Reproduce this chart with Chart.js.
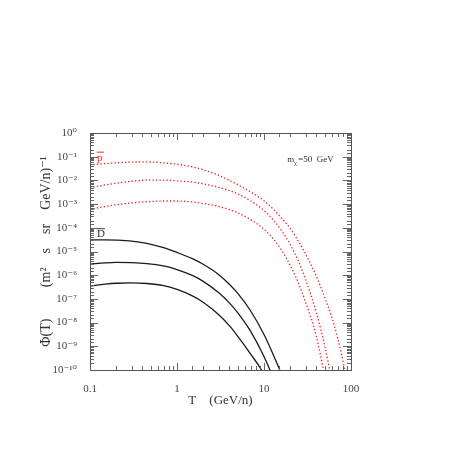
<!DOCTYPE html>
<html>
<head>
<meta charset="utf-8">
<script src="https://cdn.jsdelivr.net/npm/chart.js@4.4.1/dist/chart.umd.min.js"></script>
<style>
  html, body { margin: 0; padding: 0; background: #fff; }
  #wrap { width: 457px; height: 457px; }
</style>
</head>
<body>
<div id="wrap"><canvas id="fluxChart" width="457" height="457"></canvas></div>
<script>
var energies = [0.1, 0.15, 0.2, 0.3, 0.45, 0.7, 1, 1.5, 2, 3, 4, 5, 7, 10, 13, 16, 20, 25, 30, 40, 50, 60, 70, 85, 100]

// log10 of the flux
var pbarHighLog = [-1.35, -1.29, -1.26, -1.23, -1.22, -1.26, -1.32, -1.43, -1.55, -1.78, -2.00, -2.18, -2.48, -2.86, -3.24, -3.60, -4.02, -4.58, -5.10, -6.05, -6.95, -7.75, -8.62, -10.0, -11.3]
var pbarMidLog = [-2.31, -2.19, -2.12, -2.04, -1.99, -1.99, -2.02, -2.07, -2.14, -2.29, -2.43, -2.57, -2.86, -3.27, -3.70, -4.13, -4.70, -5.42, -6.16, -7.58, -9.00, -10.4, -11.6, null, null]
var pbarLowLog = [-3.22, -3.10, -3.03, -2.95, -2.90, -2.87, -2.87, -2.91, -2.97, -3.10, -3.23, -3.37, -3.65, -4.06, -4.50, -4.96, -5.58, -6.35, -7.13, -8.58, -10.3, -11.8, null, null, null]
var dbarHighLog = [-4.51, -4.51, -4.52, -4.56, -4.66, -4.84, -5.04, -5.30, -5.54, -5.97, -6.38, -6.77, -7.50, -8.50, -9.42, -10.22, -11.3, null, null, null, null, null, null, null, null]
var dbarMidLog = [-5.53, -5.48, -5.46, -5.47, -5.51, -5.61, -5.76, -6.01, -6.26, -6.73, -7.17, -7.59, -8.36, -9.43, -10.41, -11.3, null, null, null, null, null, null, null, null, null]
var dbarLowLog = [-6.46, -6.38, -6.34, -6.32, -6.35, -6.44, -6.60, -6.87, -7.14, -7.66, -8.13, -8.58, -9.32, -10.2, -11.3, null, null, null, null, null, null, null, null, null, null]

var xTickLabels = ['0.1', '1', '10', '100']
var yMinExp = -10
var yMaxExp = 0

var serif = "'Liberation Serif', 'DejaVu Serif', serif"
var supMap = { '-': '\u207B', '0': '\u2070', '1': '\u00B9', '2': '\u00B2', '3': '\u00B3', '4': '\u2074', '5': '\u2075', '6': '\u2076', '7': '\u2077', '8': '\u2078', '9': '\u2079' }

function toSup(n) {
    return String(n).split('').map(function (c) { return supMap[c] }).join('')
}
function isDecade(v) {
    var l = Math.log10(v)
    return Math.abs(l - Math.round(l)) < 1e-6
}
function toPoints(logs) {
    return energies.map(function (t, i) {
        return { x: t, y: logs[i] === null ? null : Math.pow(10, logs[i]) }
    })
}
function redSet(logs) {
    return {
        data: toPoints(logs),
        borderColor: 'rgb(255, 20, 20)',
        borderWidth: 1.3,
        borderDash: [1.3, 2.2],
        pointRadius: 0,
        cubicInterpolationMode: 'monotone',
        spanGaps: false
    }
}
function blackSet(logs) {
    return {
        data: toPoints(logs),
        borderColor: '#1a1a1a',
        borderWidth: 1.3,
        pointRadius: 0,
        cubicInterpolationMode: 'monotone',
        spanGaps: false
    }
}

var frameTicks = {
    id: 'frameTicks',
    afterDatasetsDraw: function (chart) {
        var ctx = chart.ctx
        var a = chart.chartArea
        var xs = chart.scales.x
        var ys = chart.scales.y
        ctx.save()
        ctx.strokeStyle = '#666'
        ctx.lineWidth = 1
        xs.ticks.forEach(function (t) {
            var px = Math.round(xs.getPixelForValue(t.value)) + 0.5
            var len = isDecade(t.value) ? 7 : 4
            ctx.beginPath()
            ctx.moveTo(px, a.bottom); ctx.lineTo(px, a.bottom - len)
            ctx.moveTo(px, a.top); ctx.lineTo(px, a.top + len)
            ctx.stroke()
        })
        ys.ticks.forEach(function (t) {
            var py = Math.round(ys.getPixelForValue(t.value)) + 0.5
            var len = isDecade(t.value) ? 8 : 4
            ctx.beginPath()
            ctx.moveTo(a.left, py); ctx.lineTo(a.left + len, py)
            ctx.moveTo(a.right, py); ctx.lineTo(a.right - len, py)
            ctx.stroke()
        })
        ctx.strokeStyle = '#555'
        ctx.strokeRect(Math.round(a.left) + 0.5, Math.round(a.top) + 0.5, Math.round(a.right - a.left), Math.round(a.bottom - a.top))

        ctx.textBaseline = 'middle'
        ctx.textAlign = 'left'
        var lx = xs.getPixelForValue(0.12)

        ctx.fillStyle = 'rgb(255, 40, 40)'
        ctx.font = '11px ' + serif
        var py1 = ys.getPixelForValue(Math.pow(10, -1.04))
        ctx.fillText('p', lx, py1)
        ctx.fillRect(lx, py1 - 6, 7, 1)

        ctx.fillStyle = '#333'
        var py2 = ys.getPixelForValue(Math.pow(10, -4.27))
        ctx.fillText('D', lx, py2)
        ctx.fillRect(lx, py2 - 6, 8, 1)

        ctx.font = '9px ' + serif
        var mx = xs.getPixelForValue(18.5)
        var my = ys.getPixelForValue(Math.pow(10, -1.14))
        ctx.fillText('m', mx, my)
        var mw = ctx.measureText('m').width
        ctx.font = '6px ' + serif
        ctx.fillText('\u03C7', mx + mw, my + 3)
        ctx.font = '9px ' + serif
        ctx.fillText('=50  GeV', mx + mw + 4, my)
        ctx.restore()
    }
}

var chartCtx = new Chart(document.getElementById('fluxChart'), {
    type: 'line',
    data: {
        datasets: [
            redSet(pbarHighLog), redSet(pbarMidLog), redSet(pbarLowLog),
            blackSet(dbarHighLog), blackSet(dbarMidLog), blackSet(dbarLowLog)
        ]
    },
    options: {
        responsive: false,
        devicePixelRatio: 1,
        animation: false,
        layout: { padding: { left: 38, top: 133, right: 106, bottom: 49 } },
        plugins: {
            legend: { display: false },
            tooltip: { enabled: false }
        },
        scales: {
            x: {
                type: 'logarithmic',
                min: 0.1,
                max: 100,
                grid: { display: false },
                border: { display: false },
                afterFit: function (scale) { scale.height = 38 },
                ticks: {
                    autoSkip: false,
                    maxRotation: 0,
                    padding: 5,
                    color: '#444',
                    font: { family: serif, size: 11 },
                    callback: function (v) {
                        if (!isDecade(v)) return ''
                        return xTickLabels[Math.round(Math.log10(v)) + 1]
                    }
                },
                title: {
                    display: true,
                    text: 'T    (GeV/n)',
                    color: '#333',
                    font: { family: serif, size: 13 },
                    padding: 0
                }
            },
            y: {
                type: 'logarithmic',
                min: Math.pow(10, yMinExp),
                max: Math.pow(10, yMaxExp),
                grid: { display: false },
                border: { display: false },
                afterFit: function (scale) { scale.width = 52 },
                ticks: {
                    autoSkip: false,
                    padding: 5,
                    color: '#444',
                    font: { family: serif, size: 11 },
                    callback: function (v) {
                        if (!isDecade(v)) return ''
                        return '10' + toSup(Math.round(Math.log10(v)))
                    }
                },
                title: {
                    display: true,
                    text: '\u03A6(T)         (m\u00B2    s    sr    GeV/n)\u207B\u00B9',
                    color: '#333',
                    font: { family: serif, size: 14 },
                    padding: 0
                }
            }
        }
    },
    plugins: [frameTicks]
})
</script>
</body>
</html>
